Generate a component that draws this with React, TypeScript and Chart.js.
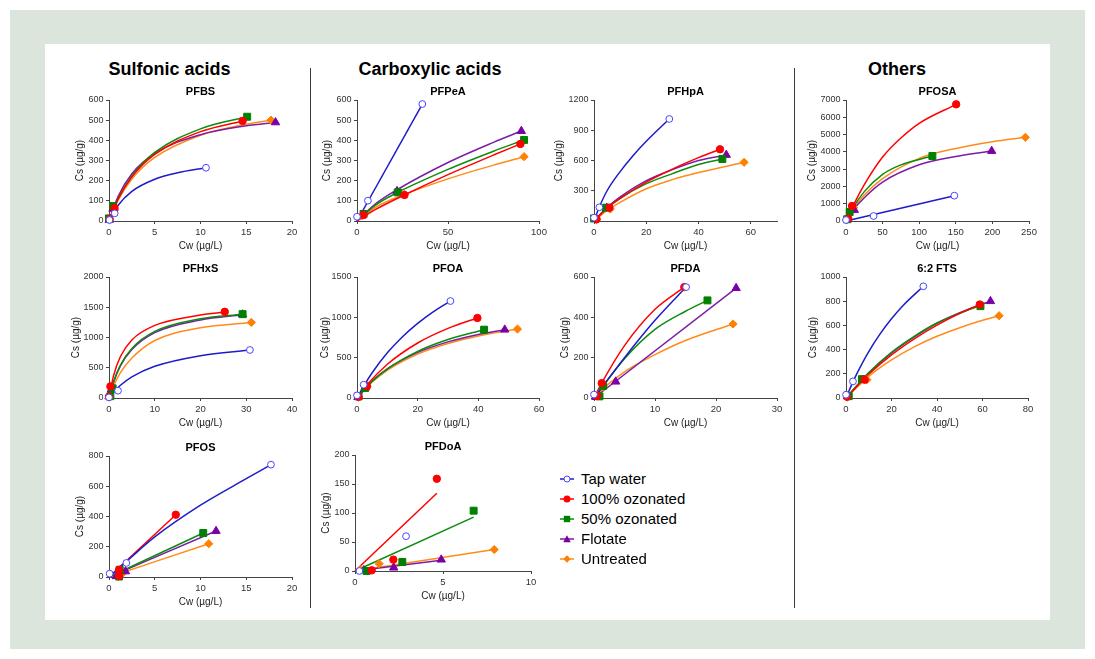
import React, { useEffect, useRef } from "react";
import { Chart, registerables } from "chart.js";
Chart.register(...registerables);

const FONT = "'Liberation Sans', Arial, Helvetica, sans-serif";
const SERIES = ["Tap water", "100% ozonated", "50% ozonated", "Flotate", "Untreated"];
const GROUPS = ["Sulfonic acids", "Carboxylic acids", "Others"];
type Pt = [number, number];

// ---------- PFBS ----------
const PFBS_xTicks = [0, 5, 10, 15, 20];
const PFBS_yTicks = [0, 100, 200, 300, 400, 500, 600];
const PFBS_points: Pt[][] = [
  [[0.05, 5], [0.62, 38], [10.6, 264]],
  [[0.07, 10], [0.6, 65], [14.6, 496]],
  [[0, 13], [0.44, 74], [15.1, 517]],
  [[0.02, 5], [0.44, 60], [18.2, 489]],
  [[0.07, 5], [0.62, 55], [17.7, 500]],
];
const PFBS_fits: Pt[][] = [
  [[0, 0], [1, 78], [2.5, 147], [5, 207], [7.5, 239], [10.6, 264]],
  [[0, 0], [1, 109], [2.5, 219], [5, 330], [10, 443], [14.6, 496]],
  [[0, 0], [1, 111], [2.5, 224], [5, 340], [10, 457], [15.1, 517]],
  [[0, 0], [1, 122], [2.5, 234], [5, 335], [10, 428], [15, 472], [18.2, 489]],
  [[0, 0], [1, 103], [2.5, 208], [5, 315], [10, 425], [15, 480], [17.7, 500]],
];

// ---------- PFPeA ----------
const PFPeA_xTicks = [0, 50, 100];
const PFPeA_yTicks = [0, 100, 200, 300, 400, 500, 600];
const PFPeA_points: Pt[][] = [
  [[0, 21], [6.0, 101], [35.9, 580]],
  [[3.6, 30], [26.1, 129], [89.8, 382]],
  [[3.6, 35], [22.4, 142], [91.8, 402]],
  [[2.7, 28], [22, 148], [90.3, 446]],
  [[2.7, 26], [26.1, 132], [91.8, 319]],
];
const PFPeA_fits: Pt[][] = [
  [[0, 0], [35.9, 580]],
  [[0, 0], [10, 56], [26, 129], [50, 230], [75, 327], [89.8, 382]],
  [[0, 0], [10, 78], [22.4, 142], [50, 256], [75, 346], [91.8, 402]],
  [[0, 0], [10, 84], [22, 155], [50, 290], [75, 390], [90.3, 446]],
  [[0, 0], [10, 67], [26.1, 132], [50, 209], [75, 277], [91.8, 319]],
];

// ---------- PFHpA ----------
const PFHpA_xTicks = [0, 20, 40, 60];
const PFHpA_xMax = 70;
const PFHpA_yTicks = [0, 300, 600, 900, 1200];
const PFHpA_points: Pt[][] = [
  [[0, 33], [2.05, 136], [28.8, 1012]],
  [[1, 17], [5.9, 132], [48.2, 711]],
  [[0, 25], [4.6, 132], [49.1, 615]],
  [[0.5, 20], [4.9, 130], [50.6, 655]],
  [[0.8, 15], [6.2, 119], [57.4, 582]],
];
const PFHpA_fits: Pt[][] = [
  [[0, 0], [2, 136], [5, 300], [10, 490], [15, 650], [20, 790], [28.8, 1012]],
  [[0, 0], [5, 128], [10, 225], [20, 385], [30, 515], [40, 628], [48.2, 711]],
  [[0, 0], [5, 130], [10, 225], [20, 370], [30, 470], [40, 560], [49.1, 615]],
  [[0, 0], [5, 135], [10, 240], [20, 400], [30, 510], [40, 600], [50.6, 655]],
  [[0, 0], [5, 105], [10, 185], [20, 320], [30, 410], [40, 480], [57.4, 582]],
];

// ---------- PFOSA ----------
const PFOSA_xTicks = [0, 50, 100, 150, 200, 250];
const PFOSA_yTicks = [0, 1000, 2000, 3000, 4000, 5000, 6000, 7000];
const PFOSA_points: Pt[][] = [
  [[0, 58], [37.7, 289], [148, 1465]],
  [[3, 150], [8.2, 868], [150.5, 6750]],
  [[1.5, 100], [5, 520], [118, 3760]],
  [[2, 80], [11.4, 636], [199, 4050]],
  [[1, 60], [10.5, 771], [245, 4840]],
];
const PFOSA_fits: Pt[][] = [
  [[0, 0], [148, 1465]],
  [[0, 0], [10, 900], [25, 2100], [50, 3700], [75, 4800], [100, 5650], [150.5, 6750]],
  [[0, 0], [10, 800], [25, 1700], [50, 2700], [75, 3250], [118, 3760]],
  [[0, 0], [10, 650], [25, 1350], [50, 2250], [100, 3250], [150, 3730], [199, 4050]],
  [[0, 0], [10, 700], [25, 1500], [50, 2450], [100, 3620], [150, 4200], [200, 4590], [245, 4840]],
];

// ---------- PFHxS ----------
const PFHxS_xTicks = [0, 10, 20, 30, 40];
const PFHxS_yTicks = [0, 500, 1000, 1500, 2000];
const PFHxS_points: Pt[][] = [
  [[0, 10], [1.97, 121], [30.8, 794]],
  [[0, 20], [0.3, 192], [25.3, 1425]],
  [[0.3, 30], [0.8, 160], [29.2, 1386]],
  [[0, 25], [0.5, 140], [29.2, 1380]],
  [[0.1, 15], [0.73, 164], [31.1, 1249]],
];
const PFHxS_fits: Pt[][] = [
  [[0, 0], [1, 95], [2.5, 210], [5, 350], [10, 525], [20, 700], [30.8, 794]],
  [[0, 0], [1, 369], [2.5, 686], [5, 960], [10, 1200], [20, 1371], [25.3, 1420]],
  [[0, 0], [1, 270], [2.5, 545], [5, 820], [10, 1100], [20, 1310], [29.2, 1386]],
  [[0, 0], [1, 260], [2.5, 530], [5, 800], [10, 1080], [20, 1290], [29.2, 1375]],
  [[0, 0], [1, 200], [2.5, 420], [5, 660], [10, 950], [20, 1160], [31.1, 1249]],
];

// ---------- PFOA ----------
const PFOA_xTicks = [0, 20, 40, 60];
const PFOA_yTicks = [0, 500, 1000, 1500];
const PFOA_points: Pt[][] = [
  [[0, 33], [2.2, 165], [30.8, 1202]],
  [[0.5, 15], [3.3, 145], [39.7, 992]],
  [[0.5, 20], [2.7, 124], [41.9, 847]],
  [[0.3, 10], [2.7, 130], [48.7, 847]],
  [[0.5, 10], [3.3, 140], [52.9, 855]],
];
const PFOA_fits: Pt[][] = [
  [[0, 0], [2.2, 147], [5, 313], [10, 560], [15, 760], [20, 926], [25, 1066], [30.8, 1202]],
  [[0, 0], [3.3, 163], [10, 418], [20, 682], [30, 863], [39.7, 992]],
  [[0, 0], [5, 205], [10, 360], [20, 578], [30, 725], [41.9, 847]],
  [[0, 0], [5, 210], [10, 361], [20, 565], [30, 696], [40, 787], [48.7, 847]],
  [[0, 0], [5, 198], [10, 344], [20, 545], [30, 676], [40, 769], [52.9, 855]],
];

// ---------- PFDA ----------
const PFDA_xTicks = [0, 10, 20, 30];
const PFDA_yTicks = [0, 200, 400, 600];
const PFDA_points: Pt[][] = [
  [[0, 17], [15.1, 550]],
  [[0.5, 10], [1.26, 74], [14.8, 550]],
  [[0.9, 8], [1.5, 60], [18.6, 484]],
  [[0.3, 5], [3.56, 81], [23.3, 545]],
  [[0.5, 12], [1.5, 55], [22.8, 367]],
];
const PFDA_fits: Pt[][] = [
  [[0, 0], [5, 200], [10, 385], [15.1, 550]],
  [[0, 0], [1.26, 74], [5, 260], [10, 440], [14.8, 550]],
  [[0, 0], [5, 195], [10, 340], [15, 430], [18.6, 484]],
  [[0, 0], [23.3, 545]],
  [[0, 0], [2, 60], [5, 130], [10, 215], [15, 285], [22.8, 367]],
];

// ---------- 6:2 FTS ----------
const FTS_xTicks = [0, 20, 40, 60, 80];
const FTS_yTicks = [0, 200, 400, 600, 800, 1000];
const FTS_points: Pt[][] = [
  [[0, 27], [3.07, 137], [34, 923]],
  [[0.5, 10], [8.2, 151], [58.8, 773]],
  [[1.2, 15], [7, 156], [59.1, 759]],
  [[0.8, 12], [7.5, 150], [63.5, 800]],
  [[0.5, 8], [9.2, 151], [67.3, 680]],
];
const FTS_fits: Pt[][] = [
  [[0, 0], [3, 131], [5, 210], [10, 384], [15, 530], [20, 655], [25, 763], [34, 923]],
  [[0, 0], [10, 196], [20, 356], [30, 489], [40, 602], [50, 699], [58.8, 773]],
  [[0, 0], [10, 210], [20, 378], [30, 510], [40, 620], [50, 700], [59.1, 765]],
  [[0, 0], [10, 205], [20, 372], [30, 505], [40, 618], [50, 705], [63.5, 800]],
  [[0, 0], [10, 179], [20, 315], [30, 423], [40, 510], [50, 581], [60, 642], [67.3, 680]],
];

// ---------- PFOS ----------
const PFOS_xTicks = [0, 5, 10, 15, 20];
const PFOS_yTicks = [0, 200, 400, 600, 800];
const PFOS_points: Pt[][] = [
  [[0.07, 22], [1.9, 93], [17.7, 743]],
  [[1.1, 7], [1.1, 48], [7.3, 412]],
  [[1.1, 3], [1.17, 48], [10.3, 291]],
  [[0.8, 5], [1.8, 37], [11.7, 304]],
  [[1, 4], [1.5, 25], [10.9, 220]],
];
const PFOS_fits: Pt[][] = [
  [[0, 0], [2, 108], [5, 265], [10, 475], [15, 650], [17.7, 743]],
  [[0, 0], [7.3, 412]],
  [[0, 0], [10.3, 291]],
  [[0, 0], [11.7, 304]],
  [[0, 0], [10.9, 220]],
];

// ---------- PFDoA ----------
const PFDoA_xTicks = [0, 5, 10];
const PFDoA_yTicks = [0, 50, 100, 150, 200];
const PFDoA_points: Pt[][] = [
  [[0.25, 0], [2.9, 60]],
  [[0.95, 1.2], [2.18, 19.6], [4.65, 159]],
  [[0.66, 0], [2.69, 15.6], [6.74, 104]],
  [[0.5, 1], [2.2, 5.8], [4.9, 19.6]],
  [[0.3, 2], [1.37, 12.7], [7.91, 37]],
];
const PFDoA_fits: Pt[][] = [
  [],
  [[0, 0], [4.65, 134]],
  [[0, 0], [6.74, 93]],
  [[0, 0], [4.9, 18.4]],
  [[0, 0], [7.91, 37]],
];

// ---------- styles ----------
const STYLES = [
  { line: "#1c1cc8", border: "#4646ff", fill: "#ffffff", shape: "circle", r: 3.4 },
  { line: "#ff0000", border: "#ff0000", fill: "#ff0000", shape: "circle", r: 3.7 },
  { line: "#0c8c0c", border: "#008000", fill: "#008000", shape: "rect", r: 4.9 },
  { line: "#7a1ea6", border: "#7a00a6", fill: "#7a00a6", shape: "triangle", r: 4.8 },
  { line: "#ff8c1a", border: "#ff8000", fill: "#ff8000", shape: "rectRot", r: 4.1 },
];

type PanelProps = {
  title: string;
  rect: [number, number, number, number];
  yTitlePad: number;
  xTicks: number[];
  xMax: number;
  yTicks: number[];
  points: Pt[][];
  fits: Pt[][];
};

const PAD_L = 50, PAD_T = 24, PAD_R = 16, PAD_B = 32;

function Panel(p: PanelProps) {
  const ref = useRef<HTMLCanvasElement>(null);
  const [L, T, R, B] = p.rect;
  const W = R - L + PAD_L + PAD_R;
  const H = B - T + PAD_T + PAD_B;

  useEffect(() => {
    const datasets: any[] = [];
    p.points.forEach((arr, i) => {
      const s = STYLES[i];
      datasets.push({
        label: SERIES[i],
        data: arr.map(([x, y]) => ({ x, y })),
        showLine: false,
        pointStyle: s.shape,
        pointRadius: s.r,
        pointHoverRadius: s.r,
        pointBackgroundColor: s.fill,
        pointBorderColor: s.border,
        pointBorderWidth: 1,
        order: 0,
        clip: false,
      });
    });
    p.fits.forEach((arr, i) => {
      if (!arr.length) return;
      const s = STYLES[i];
      datasets.push({
        label: SERIES[i] + " fit",
        data: arr.map(([x, y]) => ({ x, y })),
        showLine: true,
        pointRadius: 0,
        pointHoverRadius: 0,
        borderColor: s.line,
        borderWidth: 1.5,
        cubicInterpolationMode: "monotone",
        fill: false,
        order: 1,
        clip: false,
      });
    });

    const title = p.title;
    const titlePlugin = {
      id: "panelTitle",
      afterDraw(chart: any) {
        const { ctx, chartArea } = chart;
        ctx.save();
        ctx.font = `bold 11px ${FONT}`;
        ctx.fillStyle = "#000";
        ctx.textAlign = "center";
        ctx.textBaseline = "middle";
        ctx.fillText(title, (chartArea.left + chartArea.right) / 2, chartArea.top - 8);
        ctx.restore();
      },
    };

    const grid = { display: true, drawOnChartArea: false, drawTicks: true, tickLength: 3, color: "#444", lineWidth: 1 };
    const border = { display: true, color: "#444", width: 1 };

    const chart = new Chart(ref.current as HTMLCanvasElement, {
      type: "scatter",
      data: { datasets },
      options: {
        responsive: false,
        animation: false,
        devicePixelRatio: 1,
        events: [],
        layout: { padding: { left: 0, top: PAD_T, right: PAD_R, bottom: 0 } },
        plugins: { legend: { display: false }, tooltip: { enabled: false }, title: { display: false } },
        scales: {
          x: {
            type: "linear",
            min: p.xTicks[0],
            max: p.xMax,
            afterBuildTicks: (s: any) => { s.ticks = p.xTicks.map((v) => ({ value: v })); },
            afterFit: (s: any) => { s.height = PAD_B; },
            grid,
            border,
            ticks: { font: { family: FONT, size: 9.5 }, color: "#333", padding: 3, maxRotation: 0, autoSkip: false, callback: (v: any) => String(v) },
            title: { display: true, text: "Cw (µg/L)", font: { family: FONT, size: 10 }, color: "#222", padding: { top: 0, bottom: 1 } },
          },
          y: {
            type: "linear",
            min: p.yTicks[0],
            max: p.yTicks[p.yTicks.length - 1],
            afterBuildTicks: (s: any) => { s.ticks = p.yTicks.map((v) => ({ value: v })); },
            afterFit: (s: any) => { s.width = PAD_L; },
            grid,
            border,
            ticks: { font: { family: FONT, size: 9 }, color: "#333", padding: 2.5, autoSkip: false, callback: (v: any) => String(v) },
            title: { display: true, text: "Cs (µg/g)", font: { family: FONT, size: 10 }, color: "#222", padding: { top: p.yTitlePad, bottom: 0 } },
          },
        },
      } as any,
      plugins: [titlePlugin],
    });
    return () => chart.destroy();
  }, []);

  return (
    <canvas
      ref={ref}
      width={W}
      height={H}
      style={{ position: "absolute", left: L - PAD_L, top: T - PAD_T, width: W, height: H }}
    />
  );
}

const PANELS: PanelProps[] = [
  { title: "PFBS", rect: [109, 100, 292, 221], yTitlePad: 15.4, xTicks: PFBS_xTicks, xMax: 20, yTicks: PFBS_yTicks, points: PFBS_points, fits: PFBS_fits },
  { title: "PFPeA", rect: [357, 100, 539, 221], yTitlePad: 14, xTicks: PFPeA_xTicks, xMax: 100, yTicks: PFPeA_yTicks, points: PFPeA_points, fits: PFPeA_fits },
  { title: "PFHpA", rect: [594, 100, 777, 221], yTitlePad: 9, xTicks: PFHpA_xTicks, xMax: PFHpA_xMax, yTicks: PFHpA_yTicks, points: PFHpA_points, fits: PFHpA_fits },
  { title: "PFOSA", rect: [846, 100, 1029, 221], yTitlePad: 10, xTicks: PFOSA_xTicks, xMax: 250, yTicks: PFOSA_yTicks, points: PFOSA_points, fits: PFOSA_fits },
  { title: "PFHxS", rect: [109, 277, 292, 398], yTitlePad: 11.4, xTicks: PFHxS_xTicks, xMax: 40, yTicks: PFHxS_yTicks, points: PFHxS_points, fits: PFHxS_fits },
  { title: "PFOA", rect: [357, 277, 539, 398], yTitlePad: 12.3, xTicks: PFOA_xTicks, xMax: 60, yTicks: PFOA_yTicks, points: PFOA_points, fits: PFOA_fits },
  { title: "PFDA", rect: [594, 277, 777, 398], yTitlePad: 15, xTicks: PFDA_xTicks, xMax: 30, yTicks: PFDA_yTicks, points: PFDA_points, fits: PFDA_fits },
  { title: "6:2 FTS", rect: [846, 277, 1028, 398], yTitlePad: 11, xTicks: FTS_xTicks, xMax: 80, yTicks: FTS_yTicks, points: FTS_points, fits: FTS_fits },
  { title: "PFOS", rect: [109, 456, 292, 577], yTitlePad: 15.4, xTicks: PFOS_xTicks, xMax: 20, yTicks: PFOS_yTicks, points: PFOS_points, fits: PFOS_fits },
  { title: "PFDoA", rect: [355, 455, 531, 571], yTitlePad: 15, xTicks: PFDoA_xTicks, xMax: 10, yTicks: PFDoA_yTicks, points: PFDoA_points, fits: PFDoA_fits },
];

const HEADER_X = [169.5, 430, 897];

function LegendMarker({ i }: { i: number }) {
  const s = STYLES[i];
  let m: any = null;
  if (i === 0) m = <circle cx={7} cy={5} r={3} fill="#fff" stroke={s.border} strokeWidth={1} />;
  else if (i === 1) m = <circle cx={7} cy={5} r={3.5} fill={s.fill} />;
  else if (i === 2) m = <rect x={3.8} y={1.8} width={6.4} height={6.4} fill={s.fill} />;
  else if (i === 3) m = <polygon points="7,1.3 10.8,8.2 3.2,8.2" fill={s.fill} />;
  else m = <polygon points="7,1.3 10.7,5 7,8.7 3.3,5" fill={s.fill} />;
  return (
    <svg width={14} height={10} style={{ display: "block" }}>
      <line x1={0} y1={5} x2={14} y2={5} stroke={s.line} strokeWidth={1.5} />
      {m}
    </svg>
  );
}

export default function App() {
  return (
    <div style={{ position: "absolute", left: 0, top: 0, width: 1095, height: 659, background: "#ffffff", overflow: "hidden", fontFamily: FONT }}>
      <div style={{ position: "absolute", left: 10, top: 10, width: 1075, height: 639, background: "#dbe5dc" }} />
      <div style={{ position: "absolute", left: 45, top: 44, width: 1005, height: 576, background: "#ffffff" }} />
      <div style={{ position: "absolute", left: 310, top: 68, width: 1, height: 540, background: "#3a3a3a" }} />
      <div style={{ position: "absolute", left: 794, top: 68, width: 1, height: 540, background: "#3a3a3a" }} />
      {GROUPS.map((g, i) => (
        <div key={g} style={{ position: "absolute", left: HEADER_X[i], top: 60, transform: "translateX(-50%)", font: `bold 18px ${FONT}`, lineHeight: "18px", whiteSpace: "nowrap", color: "#000" }}>
          {g}
        </div>
      ))}
      {PANELS.map((p) => (
        <Panel key={p.title} {...p} />
      ))}
      {SERIES.map((s, i) => (
        <React.Fragment key={s}>
          <div style={{ position: "absolute", left: 560, top: 478.5 + i * 20 - 5 }}>
            <LegendMarker i={i} />
          </div>
          <div style={{ position: "absolute", left: 581, top: 478.5 + i * 20 - 7.3, font: `15px ${FONT}`, lineHeight: "15px", whiteSpace: "nowrap", color: "#000" }}>
            {s}
          </div>
        </React.Fragment>
      ))}
    </div>
  );
}
